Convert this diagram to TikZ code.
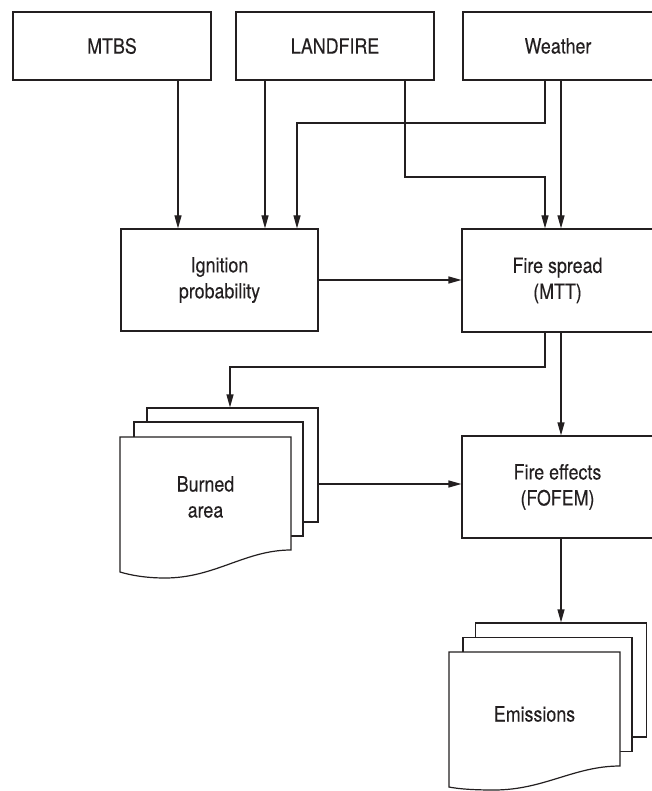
\documentclass[tikz,border=0pt]{standalone}
\usepackage{fontspec}
\setmainfont{TeX Gyre Heros}[FakeStretch=0.85,FakeBold=0.12]
\usetikzlibrary{arrows.meta}
\definecolor{ink}{HTML}{231F20}
\begin{document}
\begin{tikzpicture}[x=1pt,y=-1pt,
  every node/.style={font=\fontsize{21}{26}\selectfont, text=ink},
  box/.style={draw=ink, line width=1.2pt, fill=white, inner sep=0pt, align=center},
  page/.style={draw=ink, line width=1.2pt, fill=white, inner sep=0pt},
  label/.style={align=center, inner sep=0pt},
  arr/.style={draw=ink, line width=1.2pt, -{Triangle[length=13pt,width=7pt]}}]
\useasboundingbox (0,0) rectangle (652,791);
\fill[white] (0,0) rectangle (652,791);

% top boxes
\node[box, minimum width=198pt, minimum height=68pt] (mtbs) at (112,46) {MTBS};
\node[box, minimum width=198pt, minimum height=68pt] (lf) at (335,46) {LANDFIRE};
\node[box, minimum width=190pt, minimum height=68pt] (wx) at (558,46) {Weather};

% middle boxes
\node[box, minimum width=197pt, minimum height=102pt] (ig) at (219.5,280) {Ignition\\probability};
\node[box, minimum width=191pt, minimum height=103pt] (fs) at (557.5,280.5) {Fire spread\\(MTT)};
\node[box, minimum width=191pt, minimum height=102pt] (fe) at (557.5,487) {Fire effects\\(FOFEM)};

% burned area stack
\node[page, minimum width=171pt, minimum height=114pt] (bback) at (232.5,465) {};
\node[page, minimum width=169pt, minimum height=114pt] (bmid) at (218.5,479) {};
\draw[page] (120,437) -- (291,437) -- (291,550)
  .. controls (245,550) and (215,578) .. (165,578)
  .. controls (145,578) and (130,575) .. (120,572) -- cycle;
\node[label] (burned) at (205.5,497) {Burned\\area};

% emissions stack
\node[page, minimum width=171pt, minimum height=114pt] (eback) at (561,680) {};
\node[page, minimum width=169pt, minimum height=114pt] (emid) at (547.5,694.5) {};
\draw[page] (449,652) -- (620,652) -- (620,766)
  .. controls (574,766) and (544,790) .. (494,790)
  .. controls (474,790) and (459,789) .. (449,787) -- cycle;
\node[label] (emis) at (534.5,714) {Emissions};

% helper coordinates
\coordinate (xa) at (178,0);
\coordinate (xb) at (265,0);
\coordinate (xc) at (297,0);
\coordinate (xd) at (405,0);
\coordinate (xe) at (545,0);
\coordinate (xf) at (561,0);
\coordinate (xg) at (230,0);
\coordinate (ya) at (0,123);
\coordinate (yb) at (0,177);
\coordinate (yc) at (0,367);
\coordinate (yh) at (0,484);

% connectors
\draw[arr] (mtbs.south -| xa) -- (ig.north -| xa);
\draw[arr] (lf.south -| xb) -- (ig.north -| xb);
\draw[arr] (wx.south -| xe) |- (xc |- ya) -- (ig.north -| xc);
\draw[arr] (lf.south -| xd) |- (xe |- yb) -- (fs.north -| xe);
\draw[arr] (wx.south -| xf) -- (fs.north -| xf);
\draw[arr] (ig.east) -- (fs.west |- ig.east);
\draw[arr] (fs.south -| xe) |- (xg |- yc) -- (bback.north -| xg);
\draw[arr] (fs.south -| xf) -- (fe.north -| xf);
\draw[arr] (bback.east |- yh) -- (fe.west |- yh);
\draw[arr] (fe.south -| xf) -- (eback.north -| xf);
\end{tikzpicture}
\end{document}
